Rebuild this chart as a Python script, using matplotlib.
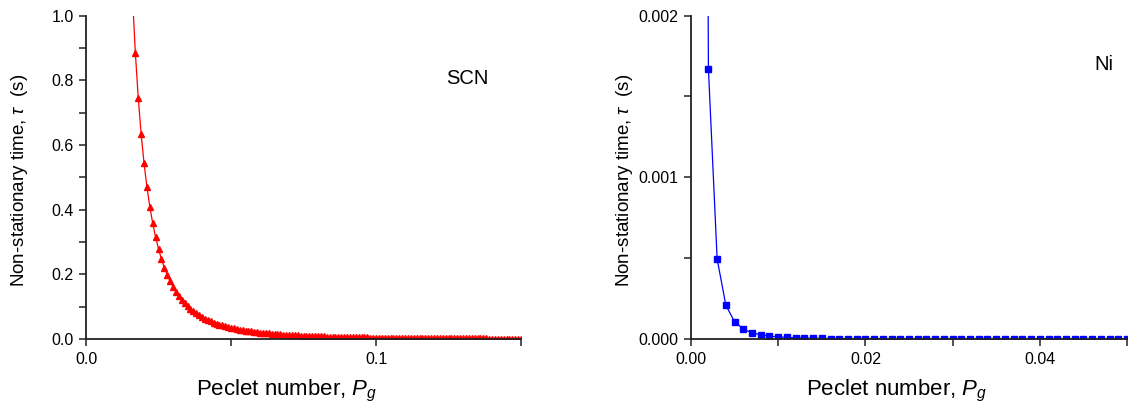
import numpy as np
import matplotlib
matplotlib.use('Agg')
import matplotlib.pyplot as plt
from matplotlib.ticker import MultipleLocator, FormatStrFormatter

plt.rcParams['font.family'] = ['Liberation Sans', 'DejaVu Sans']
plt.rcParams['mathtext.fontset'] = 'custom'
plt.rcParams['mathtext.it'] = 'Liberation Sans:italic'
plt.rcParams['mathtext.rm'] = 'Liberation Sans'

# SCN: Peclet number vs non-stationary time (s)
pe_scn = [
    0.016, 0.017, 0.018, 0.019, 0.020, 0.021, 0.022, 0.023, 0.024, 0.025,
    0.026, 0.027, 0.028, 0.029, 0.030, 0.031, 0.032, 0.033, 0.034, 0.035,
    0.036, 0.037, 0.038, 0.039, 0.040, 0.041, 0.042, 0.043, 0.044, 0.045,
    0.046, 0.047, 0.048, 0.049, 0.050, 0.051, 0.052, 0.053, 0.054, 0.055,
    0.056, 0.057, 0.058, 0.059, 0.060, 0.061, 0.062, 0.063, 0.064, 0.065,
    0.066, 0.067, 0.068, 0.069, 0.070, 0.071, 0.072, 0.073, 0.074, 0.075,
    0.076, 0.077, 0.078, 0.079, 0.080, 0.081, 0.082, 0.083, 0.084, 0.085,
    0.086, 0.087, 0.088, 0.089, 0.090, 0.091, 0.092, 0.093, 0.094, 0.095,
    0.096, 0.097, 0.098, 0.099, 0.100, 0.101, 0.102, 0.103, 0.104, 0.105,
    0.106, 0.107, 0.108, 0.109, 0.110, 0.111, 0.112, 0.113, 0.114, 0.115,
    0.116, 0.117, 0.118, 0.119, 0.120, 0.121, 0.122, 0.123, 0.124, 0.125,
    0.126, 0.127, 0.128, 0.129, 0.130, 0.131, 0.132, 0.133, 0.134, 0.135,
    0.136, 0.137, 0.138, 0.139, 0.140, 0.141, 0.142, 0.143, 0.144, 0.145,
    0.146, 0.147, 0.148, 0.149, 0.150]
tau_scn = [
    1.0615, 0.8850, 0.7455, 0.6339, 0.5435, 0.4695, 0.4083, 0.3574, 0.3145, 0.2783,
    0.2474, 0.2209, 0.1981, 0.1783, 0.1610, 0.1460, 0.1327, 0.1210, 0.1106, 0.1014,
    0.0932, 0.0858, 0.0792, 0.0733, 0.0679, 0.0631, 0.0587, 0.0547, 0.0510, 0.0477,
    0.0447, 0.0419, 0.0393, 0.0370, 0.0348, 0.0328, 0.0309, 0.0292, 0.0276, 0.0261,
    0.0248, 0.0235, 0.0223, 0.0212, 0.0201, 0.0192, 0.0182, 0.0174, 0.0166, 0.0158,
    0.0151, 0.0145, 0.0138, 0.0132, 0.0127, 0.0121, 0.0116, 0.0112, 0.0107, 0.0103,
    0.0099, 0.0095, 0.0092, 0.0088, 0.0085, 0.0082, 0.0079, 0.0076, 0.0073, 0.0071,
    0.0068, 0.0066, 0.0064, 0.0062, 0.0060, 0.0058, 0.0056, 0.0054, 0.0052, 0.0051,
    0.0049, 0.0048, 0.0046, 0.0045, 0.0043, 0.0042, 0.0041, 0.0040, 0.0039, 0.0038,
    0.0037, 0.0035, 0.0035, 0.0034, 0.0033, 0.0032, 0.0031, 0.0030, 0.0029, 0.0029,
    0.0028, 0.0027, 0.0026, 0.0026, 0.0025, 0.0025, 0.0024, 0.0023, 0.0023, 0.0022,
    0.0022, 0.0021, 0.0021, 0.0020, 0.0020, 0.0019, 0.0019, 0.0018, 0.0018, 0.0018,
    0.0017, 0.0017, 0.0017, 0.0016, 0.0016, 0.0016, 0.0015, 0.0015, 0.0015, 0.0014,
    0.0014, 0.0014, 0.0013, 0.0013, 0.0013]

# Ni
pe_ni = [
    0.001, 0.002, 0.003, 0.004, 0.005, 0.006, 0.007, 0.008, 0.009, 0.010,
    0.011, 0.012, 0.013, 0.014, 0.015, 0.016, 0.017, 0.018, 0.019, 0.020,
    0.021, 0.022, 0.023, 0.024, 0.025, 0.026, 0.027, 0.028, 0.029, 0.030,
    0.031, 0.032, 0.033, 0.034, 0.035, 0.036, 0.037, 0.038, 0.039, 0.040,
    0.041, 0.042, 0.043, 0.044, 0.045, 0.046, 0.047, 0.048, 0.049, 0.050]
tau_ni = [
    1.336e-2, 1.67e-3, 4.95e-4, 2.09e-4, 1.07e-4, 6.19e-5, 3.90e-5, 2.61e-5, 1.83e-5, 1.34e-5,
    1.00e-5, 7.7e-6, 6.1e-6, 4.9e-6, 4.0e-6, 3.3e-6, 2.7e-6, 2.3e-6, 1.9e-6, 1.7e-6,
    1.44e-6, 1.25e-6, 1.10e-6, 9.7e-7, 8.6e-7, 7.6e-7, 6.8e-7, 6.1e-7, 5.5e-7, 4.9e-7,
    4.5e-7, 4.1e-7, 3.7e-7, 3.4e-7, 3.1e-7, 2.9e-7, 2.6e-7, 2.4e-7, 2.3e-7, 2.1e-7,
    1.9e-7, 1.8e-7, 1.7e-7, 1.6e-7, 1.5e-7, 1.4e-7, 1.3e-7, 1.2e-7, 1.1e-7, 1.1e-7]

fig = plt.figure(figsize=(11.32, 4.08), dpi=100)
ax1 = fig.add_axes([0.076, 0.169, 0.3843, 0.793])
ax2 = fig.add_axes([0.6104, 0.169, 0.3852, 0.793])

ylab = 'Non-stationary time, $\\mathit{\\tau}$  (s)'
xlab = 'Peclet number, $\\mathit{P_g}$'

ax1.plot(pe_scn, tau_scn, color='#ff0000', lw=0.9, marker='^', ms=4.8,
         mec='#ff0000', mfc='#ff0000')
ax1.set_xlim(0, 0.15)
ax1.set_ylim(0, 1.0)
ax1.xaxis.set_major_locator(MultipleLocator(0.1))
ax1.xaxis.set_minor_locator(MultipleLocator(0.05))
ax1.yaxis.set_major_locator(MultipleLocator(0.2))
ax1.yaxis.set_minor_locator(MultipleLocator(0.1))
ax1.xaxis.set_major_formatter(FormatStrFormatter('%.1f'))
ax1.yaxis.set_major_formatter(FormatStrFormatter('%.1f'))
ax1.text(0.876, 0.804, 'SCN', transform=ax1.transAxes, fontsize=14.5,
         ha='center', va='center')

ax2.plot(pe_ni, tau_ni, color='#0000ff', lw=0.9, marker='s', ms=3.8,
         mec='#0000ff', mfc='#0000ff')
ax2.set_xlim(0, 0.05)
ax2.set_ylim(0, 0.002)
ax2.xaxis.set_major_locator(MultipleLocator(0.02))
ax2.xaxis.set_minor_locator(MultipleLocator(0.01))
ax2.yaxis.set_major_locator(MultipleLocator(0.001))
ax2.yaxis.set_minor_locator(MultipleLocator(0.0005))
ax2.xaxis.set_major_formatter(FormatStrFormatter('%.2f'))
ax2.yaxis.set_major_formatter(FormatStrFormatter('%.3f'))
ax2.text(0.946, 0.85, 'Ni', transform=ax2.transAxes, fontsize=14.5,
         ha='center', va='center')

for ax, xc in ((ax1, 0.46), (ax2, 0.472)):
    for s in ('top', 'right'):
        ax.spines[s].set_visible(False)
    for s in ('left', 'bottom'):
        ax.spines[s].set_linewidth(1.3)
        ax.spines[s].set_color('#222222')
    ax.tick_params(which='both', direction='out', length=5, width=1.1,
                   color='#222222', labelsize=11.5, pad=4)
    ax.set_ylabel(ylab, fontsize=13.5)
    ax.set_xlabel(xlab, fontsize=16)
    ax.yaxis.set_label_coords(-0.152, 0.49)
    ax.xaxis.set_label_coords(xc, -0.16)
    ax.xaxis.label.set_va('center')
    ax.yaxis.label.set_va('center')

fig.savefig('out.png', dpi=100)
